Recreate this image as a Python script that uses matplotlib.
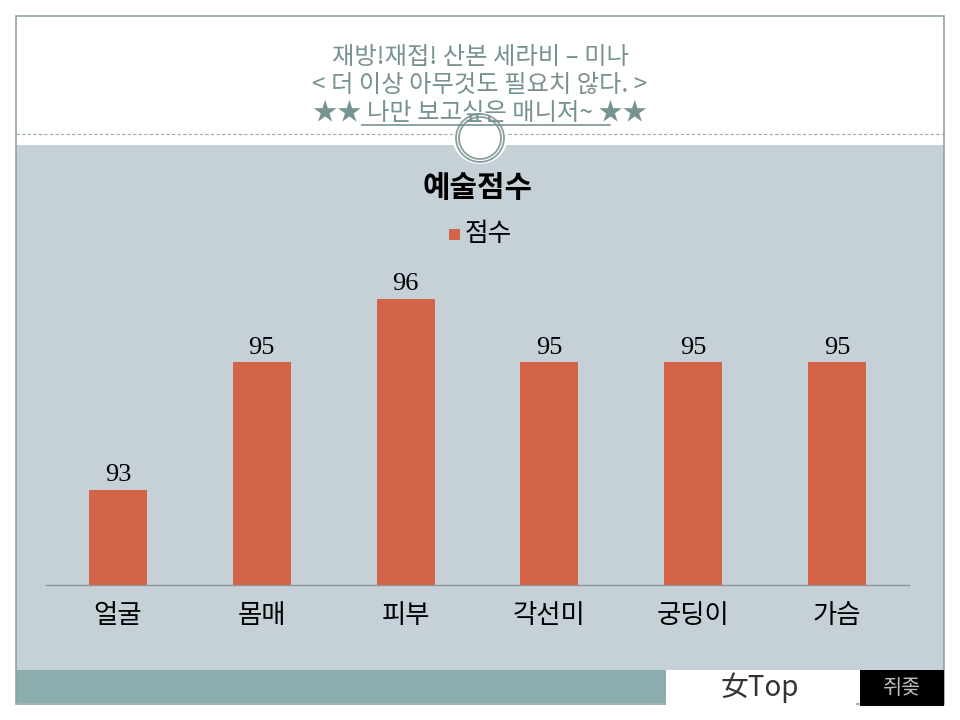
import matplotlib
matplotlib.use("Agg")
import matplotlib.pyplot as plt
from matplotlib.patches import Rectangle, Circle
from matplotlib.lines import Line2D

# ---- data ----
categories = ["얼굴", "몸매", "피부", "각선미", "궁딩이", "가슴"]
scores = [93, 95, 96, 95, 95, 95]
series_name = "점수"
chart_title = "예술점수"
title_lines = ["재방!재접! 산본 세라비 – 미나",
               "< 더 이상 아무것도 필요치 않다. >",
               "★★ 나만 보고싶은 매니저~ ★★"]

KR = ["Noto Sans CJK KR", "DejaVu Sans"]
plt.rcParams['font.family'] = KR

BAR = "#D3644A"
PANEL = "#C5D1D7"
TEAL = "#8BADAE"
TITLEC = "#789291"

fig = plt.figure(figsize=(9.6, 7.2), dpi=100)
fig.patch.set_facecolor("white")

# background decoration axes in pixel coords
bg = fig.add_axes([0, 0, 1, 1])
bg.set_xlim(0, 960)
bg.set_ylim(720, 0)
bg.axis("off")

bg.add_patch(Rectangle((16, 145), 928, 525, facecolor=PANEL, edgecolor="none"))
bg.add_patch(Rectangle((16, 670), 650, 33, facecolor=TEAL, edgecolor="none"))
# slide frame
bg.add_patch(Rectangle((16, 16), 928, 688, facecolor="none", edgecolor="#8FA3A3", lw=1.2))
# dashed separator
bg.add_line(Line2D([16, 452], [134, 134], color="#9AA8A8", lw=0.8, ls=(0, (3, 2))))
bg.add_line(Line2D([508, 944], [134, 134], color="#9AA8A8", lw=0.8, ls=(0, (3, 2))))
# circle ornament
bg.add_patch(Circle((480, 136), 28, facecolor="white", edgecolor="none"))
bg.add_patch(Circle((480, 138), 24, facecolor="none", edgecolor="#8A9E9E", lw=1.3))
bg.add_patch(Circle((480, 138), 21, facecolor="none", edgecolor="#8A9E9E", lw=1.3))

# titles
ys = [57, 85, 113]
for t, y in zip(title_lines, ys):
    bg.text(480, y, t, ha="center", va="center", fontsize=17.5, color=TITLEC)
bg.add_line(Line2D([362, 610], [125, 125], color=TITLEC, lw=1.2))

# logos
bg.add_patch(Rectangle((666, 670), 190, 36, facecolor="white", edgecolor="none"))
bg.text(760, 688, "女Top", ha="center", va="center", fontsize=20, color="#333333")
bg.add_patch(Rectangle((860, 670), 84, 36, facecolor="black", edgecolor="none"))
bg.text(902, 688, "쥐좆", ha="center", va="center", fontsize=15, color="#BBBBBB", style="italic")

# chart title and legend
bg.text(478, 188, chart_title, ha="center", va="center", fontsize=21.5, fontweight="bold", color="black")
bg.add_patch(Rectangle((449, 229), 11, 11, facecolor=BAR, edgecolor="none"))
bg.text(465, 234, series_name, ha="left", va="center", fontsize=18.5, color="black")

# chart axes
left, right, bottom_px, top_px = 46, 909, 585, 267
ax = fig.add_axes([left / 960, (720 - bottom_px) / 720, (right - left) / 960, (bottom_px - top_px) / 720])
ax.set_facecolor("none")
x = list(range(len(categories)))
bars = ax.bar(x, scores, width=0.403, color=BAR, zorder=3)
ax.set_xlim(-0.5, len(categories) - 0.5)
ax.set_ylim(91.5, 96.5)
for s in ["top", "right", "left"]:
    ax.spines[s].set_visible(False)
ax.spines["bottom"].set_color("#8C979C")
ax.spines["bottom"].set_linewidth(1.0)
ax.set_yticks([])
ax.set_xticks(x)
ax.set_xticklabels(categories, fontsize=19)
ax.tick_params(axis="x", length=0, pad=12)
for xi, v in zip(x, scores):
    ax.annotate(str(v), (xi, v), xytext=(0, 2.5), textcoords="offset points",
                ha="center", va="bottom", fontsize=19, family="Liberation Serif", color="black")

fig.savefig("out.png", dpi=100)
